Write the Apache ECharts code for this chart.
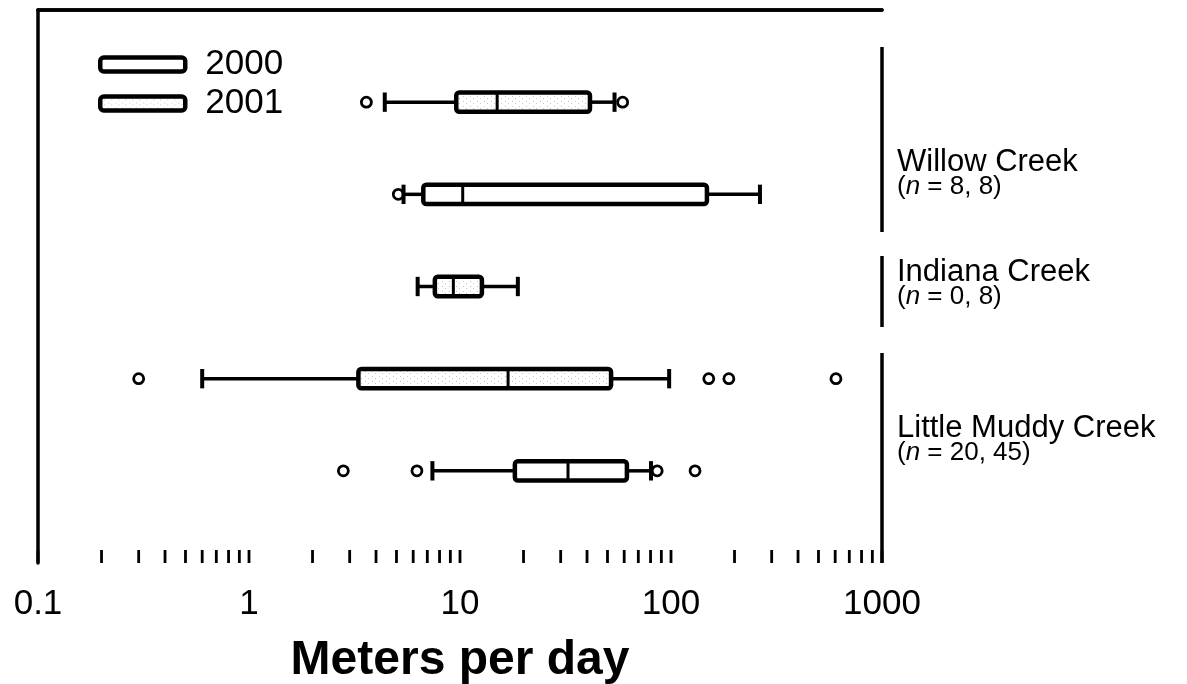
<!DOCTYPE html>
<html>
<head>
<meta charset="utf-8">
<script src="https://cdn.jsdelivr.net/npm/echarts@6/dist/echarts.min.js"></script>
<style>
  html, body { margin: 0; padding: 0; background: #fff; }
  #chart { width: 1187px; height: 684px; }
</style>
</head>
<body>
<div id="chart"></div>
<script>
// Movement rates (m/day) by stream and year
const sites = ['Willow Creek', 'Indiana Creek', 'Little Muddy Creek'];
const siteCounts = [[8, 8], [0, 8], [20, 45]];
const years = ['2000', '2001'];
// [low whisker, Q1, median, Q3, high whisker] per site; null = not sampled
const box2000 = [[5.4, 6.7, 10.3, 148, 264], null, [7.4, 18.2, 32.5, 61.8, 80.4]];
const box2001 = [[4.4, 9.6, 15.0, 41.3, 54], [6.3, 7.6, 9.3, 12.7, 18.8], [0.6, 3.3, 16.9, 52, 98]];
const outliers2000 = [[5.1], [], [2.8, 6.25, 86, 130]];
const outliers2001 = [[3.6, 59], [], [0.3, 151, 188, 605]];
const xTickLabels = ['0.1', '1', '10', '100', '1000'];

const FONT = 'Liberation Sans, Arial, Helvetica, sans-serif';
const boxes = { '2000': box2000, '2001': box2001 };
const outs = { '2000': outliers2000, '2001': outliers2001 };

// rows top to bottom: within each stream the 2001 box sits above 2000
const rowOf = { '2000': [], '2001': [] };
let row = 0;
sites.forEach((s, i) => {
  ['2001', '2000'].forEach(y => { if (boxes[y][i]) rowOf[y][i] = ++row; });
});
const rowMax = row + 1;

// light stipple used for the 2001 boxes
function makeStipple() {
  const c = document.createElement('canvas');
  c.width = 7; c.height = 5;
  const g = c.getContext('2d');
  g.fillStyle = '#ffffff'; g.fillRect(0, 0, 7, 5);
  g.fillStyle = '#c4c4c4';
  g.fillRect(1, 1, 1, 1);
  g.fillRect(4, 3, 1, 1);
  return { image: c, repeat: 'repeat' };
}
const stipple = makeStipple();
const fills = { '2000': '#ffffff', '2001': stipple };

// minor + major tick values along the log axis
const xTicks = [];
for (let e = -1; e < 3; e++) for (let k = 1; k < 10; k++) xTicks.push(+(k * Math.pow(10, e)).toPrecision(3));
xTicks.push(1000);

function renderBox(year) {
  return function (params, api) {
    const r = api.value(0);
    const lo = api.coord([api.value(1), r]);
    const q1 = api.coord([api.value(2), r]);
    const md = api.coord([api.value(3), r]);
    const q3 = api.coord([api.value(4), r]);
    const hi = api.coord([api.value(5), r]);
    const y = lo[1];
    const h = Math.abs(api.coord([1, r + 0.105])[1] - y);
    const ln = { stroke: '#000', lineWidth: 3.5 };
    const th = { stroke: '#000', lineWidth: 4 };
    return {
      type: 'group',
      children: [
        { type: 'line', shape: { x1: lo[0], y1: y, x2: q1[0], y2: y }, style: ln },
        { type: 'line', shape: { x1: q3[0], y1: y, x2: hi[0], y2: y }, style: ln },
        { type: 'line', shape: { x1: lo[0], y1: y - h, x2: lo[0], y2: y + h }, style: th },
        { type: 'line', shape: { x1: hi[0], y1: y - h, x2: hi[0], y2: y + h }, style: th },
        { type: 'rect', shape: { x: q1[0], y: y - h, width: q3[0] - q1[0], height: 2 * h, r: 3 },
          style: { fill: fills[year], stroke: '#000', lineWidth: 4.5 } },
        { type: 'line', shape: { x1: md[0], y1: y - h, x2: md[0], y2: y + h }, style: { stroke: '#000', lineWidth: 3 } }
      ]
    };
  };
}

const series = [];
years.forEach(yr => {
  series.push({
    name: 'outliers ' + yr,
    type: 'scatter',
    z: 1,
    symbol: 'circle',
    symbolSize: 10,
    itemStyle: { color: '#fff', borderColor: '#000', borderWidth: 2.8, opacity: 1 },
    data: outs[yr].flatMap((list, i) => list.map(v => [v, rowOf[yr][i]]))
  });
  series.push({
    name: yr,
    type: 'custom',
    z: 2,
    clip: false,
    itemStyle: { color: fills[yr], borderColor: '#000', borderWidth: 4 },
    encode: { x: [1, 2, 3, 4, 5], y: 0 },
    renderItem: renderBox(yr),
    data: boxes[yr].map((b, i) => b ? [rowOf[yr][i]].concat(b) : null).filter(Boolean)
  });
});

// inward ticks on the bottom axis
series.push({
  name: 'ticks',
  type: 'custom',
  z: 3,
  clip: false,
  silent: true,
  encode: { x: 0, y: 1 },
  renderItem: function (params, api) {
    const p = api.coord([api.value(0), rowMax]);
    return { type: 'line', shape: { x1: p[0], y1: p[1], x2: p[0], y2: p[1] - 13 }, style: { stroke: '#000', lineWidth: 2.8 } };
  },
  data: xTicks.map(v => [v, rowMax])
});

// stream brackets and labels on the right
const groupLines = [[47, 232], [256, 327], [353, 563]];
const labelTops = [163, 273, 429];
const graphic = [];
sites.forEach((s, i) => {
  graphic.push({
    type: 'line', shape: { x1: 882, y1: groupLines[i][0], x2: 882, y2: groupLines[i][1] },
    style: { stroke: '#000', lineWidth: 3.5 }
  });
  graphic.push({
    type: 'text', left: 897, top: labelTops[i] - 16,
    style: { text: s, font: '31px ' + FONT, fill: '#000' }
  });
  graphic.push({
    type: 'text', left: 897, top: labelTops[i] + 11,
    style: {
      text: '{a|(}{i|n}{a| = ' + siteCounts[i].join(', ') + ')}',
      rich: {
        a: { font: '26px ' + FONT, fill: '#000' },
        i: { font: 'italic 26px ' + FONT, fill: '#000' }
      }
    }
  });
});

const chart = echarts.init(document.getElementById('chart'), null, { renderer: 'canvas' });
chart.setOption({
  animation: false,
  backgroundColor: '#fff',
  grid: { left: 38, right: 305, top: 10, bottom: 121, containLabel: false, outerBoundsMode: 'none' },
  legend: {
    left: 93, top: 42, orient: 'vertical',
    itemWidth: 85, itemHeight: 14, itemGap: 4,
    icon: 'roundRect', selectedMode: false,
    textStyle: { fontSize: 35, color: '#000', fontFamily: FONT, padding: [0, 0, 0, 15] },
    data: [
      { name: '2000', itemStyle: { color: '#fff', borderColor: '#000', borderWidth: 4.5 } },
      { name: '2001', itemStyle: { color: stipple, borderColor: '#000', borderWidth: 4.5 } }
    ]
  },
  xAxis: [
    {
      type: 'log', logBase: 10, min: 0.1, max: 1000, splitNumber: 4,
      axisLine: { lineStyle: { color: '#000', width: 3.5 } },
      axisTick: { show: false },
      splitLine: { show: false },
      axisLabel: {
        color: '#000', fontSize: 35, fontFamily: FONT, margin: 24,
        formatter: v => xTickLabels[Math.round(Math.log10(v)) + 1]
      },
      name: 'Meters per day', nameLocation: 'middle', nameGap: 74,
      nameTextStyle: { color: '#000', fontSize: 48, fontWeight: 'bold', fontFamily: FONT }
    },
    {
      type: 'log', logBase: 10, min: 0.1, max: 1000, position: 'top',
      axisLine: { lineStyle: { color: '#000', width: 3.5 } },
      axisTick: { show: false }, axisLabel: { show: false }, splitLine: { show: false }
    }
  ],
  yAxis: {
    type: 'value', min: 0, max: rowMax, inverse: true,
    axisLine: { show: true, lineStyle: { color: '#000', width: 3.5 } },
    axisTick: { show: false }, axisLabel: { show: false }, splitLine: { show: false }
  },
  graphic: graphic,
  series: series
});
</script>
</body>
</html>
